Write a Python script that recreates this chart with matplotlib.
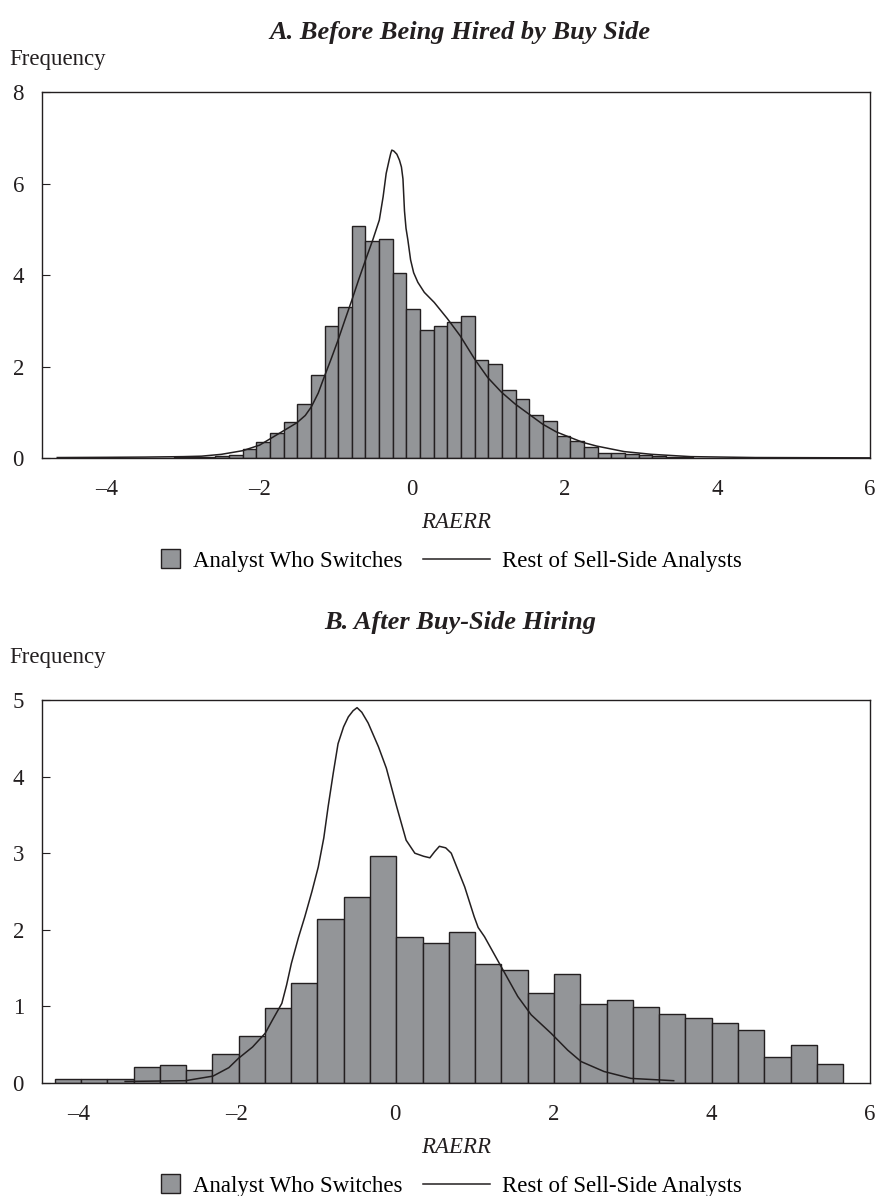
import matplotlib
matplotlib.use('Agg')
import matplotlib.pyplot as plt
import numpy as np
from matplotlib.patches import Rectangle, Patch
from matplotlib.lines import Line2D
from matplotlib.legend_handler import HandlerPatch

plt.rcParams['font.family'] = ['Liberation Serif', 'DejaVu Serif']

# ---------------- Data: Panel A (before being hired) ----------------
a_bin_start = -3.117
a_bin_width = 0.179
a_heights = [0.02, 0.03, 0.03, 0.05, 0.07, 0.20, 0.34, 0.54, 0.79, 1.17,
             1.81, 2.89, 3.30, 5.08, 4.74, 4.79, 4.04, 3.26, 2.80, 2.88,
             2.97, 3.10, 2.14, 2.05, 1.49, 1.28, 0.93, 0.80, 0.49, 0.38,
             0.23, 0.12, 0.10, 0.09, 0.07, 0.05, 0.03, 0.02]
a_curve_x = [-4.65, -4.0, -3.5, -3.0, -2.76, -2.5, -2.22, -2.0, -1.87, -1.7,
             -1.51, -1.40, -1.32, -1.23, -1.15, -1.06, -0.97, -0.88, -0.79, -0.70,
             -0.61, -0.515, -0.43, -0.38, -0.34, -0.30, -0.28, -0.266, -0.24, -0.20,
             -0.166, -0.14, -0.12, -0.10, -0.08, -0.056, -0.02, 0.02, 0.075, 0.16,
             0.29, 0.46, 0.63, 0.82, 0.99, 1.17, 1.35, 1.53, 1.71, 1.89,
             2.07, 2.24, 2.42, 2.78, 3.14, 3.65, 4.5, 6.0]
a_curve_y = [0.01, 0.015, 0.02, 0.03, 0.04, 0.08, 0.16, 0.28, 0.41, 0.58,
             0.77, 0.93, 1.12, 1.42, 1.78, 2.17, 2.58, 3.02, 3.45, 3.90,
             4.33, 4.77, 5.20, 5.71, 6.22, 6.52, 6.66, 6.73, 6.71, 6.64,
             6.51, 6.36, 6.10, 5.40, 5.02, 4.77, 4.33, 4.05, 3.84, 3.62,
             3.40, 3.05, 2.67, 2.16, 1.76, 1.44, 1.18, 0.96, 0.74, 0.57,
             0.45, 0.34, 0.26, 0.14, 0.08, 0.03, 0.01, 0.003]

# ---------------- Data: Panel B (after hiring) ----------------
b_bin_start = -4.30
b_bin_width = 0.332
b_heights = [0.05, 0.05, 0.05, 0.21, 0.23, 0.165, 0.385, 0.61, 0.98, 1.31,
             2.14, 2.43, 2.96, 1.90, 1.83, 1.97, 1.56, 1.48, 1.17, 1.42,
             1.03, 1.08, 0.99, 0.90, 0.85, 0.78, 0.69, 0.34, 0.49, 0.25]
b_curve_x = [-3.41, -2.65, -2.3, -2.1, -1.98, -1.8, -1.64, -1.55, -1.43, -1.37,
             -1.31, -1.22, -1.14, -1.05, -0.97, -0.90, -0.845, -0.78, -0.72, -0.65,
             -0.59, -0.53, -0.48, -0.42, -0.34, -0.21, -0.11, 0.02, 0.14, 0.25,
             0.36, 0.44, 0.50, 0.56, 0.64, 0.71, 0.88, 1.00, 1.05, 1.13,
             1.34, 1.55, 1.72, 1.97, 2.18, 2.35, 2.64, 2.98, 3.52]
b_curve_y = [0.02, 0.03, 0.09, 0.20, 0.32, 0.47, 0.65, 0.82, 1.04, 1.28,
             1.56, 1.90, 2.17, 2.50, 2.82, 3.20, 3.61, 4.05, 4.43, 4.65,
             4.78, 4.86, 4.90, 4.84, 4.70, 4.39, 4.11, 3.61, 3.17, 3.00,
             2.96, 2.94, 3.02, 3.09, 3.07, 3.00, 2.56, 2.17, 2.03, 1.91,
             1.52, 1.13, 0.89, 0.65, 0.43, 0.28, 0.15, 0.06, 0.03]

titles = ["A. Before Being Hired by Buy Side", "B. After Buy-Side Hiring"]
a_yticks = [0, 2, 4, 6, 8]
b_yticks = [0, 1, 2, 3, 4, 5]
xticks = [-4, -2, 0, 2, 4, 6]
legend_labels = ["Analyst Who Switches", "Rest of Sell-Side Analysts"]

BAR_FC = '#939598'
BAR_EC = '#231f20'
FS = 16.5

W, H = 879, 1196
fig = plt.figure(figsize=(W / 100, H / 100), dpi=100)


class SquareHandler(HandlerPatch):
    def create_artists(self, legend, orig_handle, xdescent, ydescent,
                       width, height, fontsize, trans):
        s = height * 1.2
        p = Rectangle((-xdescent + width - s, -ydescent + (height - s) / 2), s, s,
                      facecolor=BAR_FC, edgecolor=BAR_EC, lw=1.0, transform=trans)
        return [p]


def panel(rect, heights, start, width, cx, cy, xlim, ylim, yticks,
          title, title_y, freq_y, leg_y):
    ax = fig.add_axes(rect)
    n = len(heights)
    left_edges = start + width * np.arange(n)
    ax.bar(left_edges, heights, width=width, align='edge',
           color=BAR_FC, edgecolor=BAR_EC, linewidth=1.0, zorder=2)
    ax.plot(cx, cy, color='#231f20', lw=1.1, zorder=3, solid_joinstyle='round')
    ax.set_xlim(*xlim)
    ax.set_ylim(*ylim)
    ax.set_xticks(xticks)
    ax.set_xticklabels(['\u2013' + str(abs(t)) if t < 0 else str(t) for t in xticks])
    ax.set_yticks(yticks)
    ax.tick_params(axis='y', direction='in', length=6, width=0.8, pad=13,
                   labelsize=FS, colors='#231f20')
    ax.tick_params(axis='x', direction='in', length=0, pad=15,
                   labelsize=FS, colors='#231f20')
    for s in ax.spines.values():
        s.set_linewidth(1.0)
        s.set_color('#231f20')
    ax.set_xlabel('RAERR', fontsize=FS, style='italic', labelpad=9, color='#231f20')
    fig.text(rect[0] + rect[2] / 2 + 0.005, title_y, title, ha='center', va='center',
             fontsize=19, style='italic', weight='bold', color='#231f20')
    fig.text(0.011, freq_y, 'Frequency', ha='left', va='center', fontsize=FS,
             color='#231f20')
    handles = [Patch(facecolor=BAR_FC, edgecolor=BAR_EC),
               Line2D([0], [0], color='#231f20', lw=1.1)]
    ax.legend(handles, legend_labels, loc='center', ncol=2, frameon=False,
              bbox_to_anchor=(0.487, leg_y), bbox_transform=fig.transFigure,
              fontsize=FS, handlelength=2.9, handletextpad=0.55, columnspacing=0.9,
              handler_map={Patch: SquareHandler()})
    return ax


axA = panel([42 / W, 1 - 458 / H, 828 / W, 366 / H], a_heights, a_bin_start, a_bin_width,
            a_curve_x, a_curve_y, (-4.85, 6.0), (0, 8), a_yticks,
            titles[0], 1 - 33 / H, 1 - 60 / H, 1 - 561 / H)
axB = panel([42 / W, 1 - 1083 / H, 828 / W, 383 / H], b_heights, b_bin_start, b_bin_width,
            b_curve_x, b_curve_y, (-4.46, 6.0), (0, 5), b_yticks,
            titles[1], 1 - 622 / H, 1 - 657 / H, 1 - 1186 / H)

fig.savefig('out.png', dpi=100)
